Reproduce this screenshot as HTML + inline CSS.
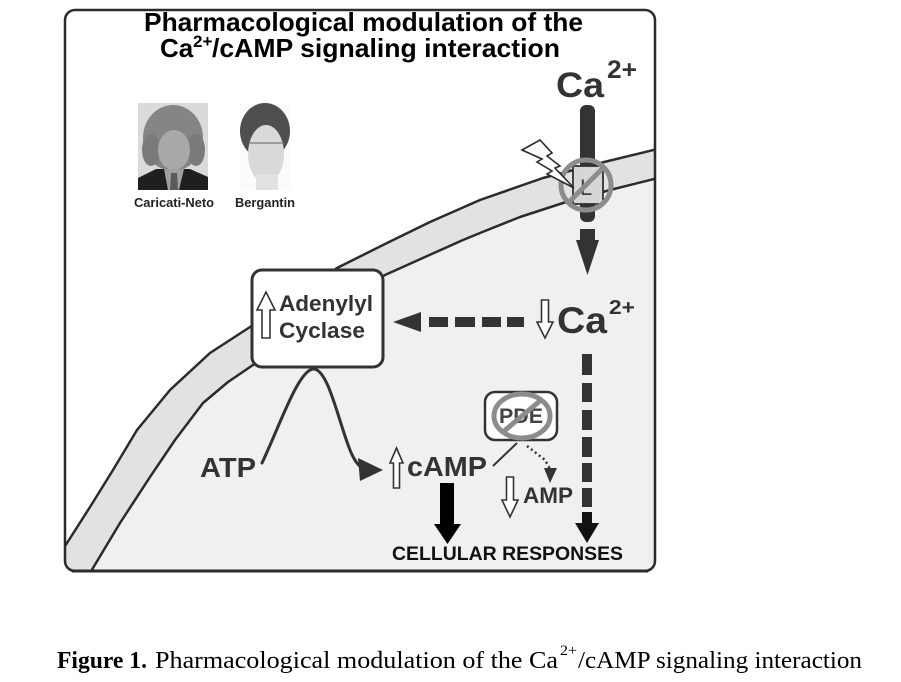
<!DOCTYPE html>
<html>
<head>
<meta charset="utf-8">
<style>
  html,body{margin:0;padding:0;background:#fff;}
  body{width:901px;height:682px;overflow:hidden;}
  svg{display:block;}
</style>
</head>
<body>
<svg width="901" height="682" viewBox="0 0 901 682" xmlns="http://www.w3.org/2000/svg">
  <defs>
    <clipPath id="fr">
      <rect x="65" y="10" width="590" height="561" rx="10" ry="10"/>
    </clipPath>
  </defs>
  <rect x="0" y="0" width="901" height="682" fill="#fff"/>

  <!-- cell interior and membrane -->
  <g clip-path="url(#fr)">
    <polygon fill="#f0f0f0" points="80,590 86,580 93,568 120,523 150,477 175,440 203,403 228,382 253,365 300,333 340,303 385,275 425,257 463,240 480,233 520,217 563,203 610,190 670,175 700,175 700,600 80,600"/>
    <polygon fill="#e2e2e2" points="50,568 58,556 67,543 90,507 113,470 137,430 170,390 210,353 250,327 293,297 337,268 385,244 430,222 480,200 543,178 600,163 670,146 670,175 610,190 563,203 520,217 480,233 463,240 425,257 385,275 340,303 300,333 253,365 228,382 203,403 175,440 150,477 120,523 93,568 86,580 80,590"/>
    <polyline fill="none" stroke="#2b2b2b" stroke-width="2.5" stroke-linejoin="round" points="50,568 58,556 67,543 90,507 113,470 137,430 170,390 210,353 250,327 293,297 337,268 385,244 430,222 480,200 543,178 600,163 670,146"/>
    <polyline fill="none" stroke="#2b2b2b" stroke-width="2.5" stroke-linejoin="round" points="80,590 86,580 93,568 120,523 150,477 175,440 203,403 228,382 253,365 300,333 340,303 385,275 425,257 463,240 480,233 520,217 563,203 610,190 670,175"/>
  </g>

  <!-- frame -->
  <rect x="65" y="10" width="590" height="561" rx="10" ry="10" fill="none" stroke="#2b2b2b" stroke-width="2.5"/>
  <line x1="72" y1="571" x2="648" y2="571" stroke="#2b2b2b" stroke-width="3"/>

  <!-- Title -->
  <text x="144" y="31" font-family="Liberation Sans, Arial, sans-serif" font-weight="bold" font-size="26" fill="#000" textLength="439" lengthAdjust="spacingAndGlyphs">Pharmacological modulation of the</text>
  <text x="160" y="57" font-family="Liberation Sans, Arial, sans-serif" font-weight="bold" font-size="26" fill="#000">Ca</text>
  <text x="193" y="47" font-family="Liberation Sans, Arial, sans-serif" font-weight="bold" font-size="17" fill="#000">2+</text>
  <text x="212" y="57" font-family="Liberation Sans, Arial, sans-serif" font-weight="bold" font-size="26" fill="#000" textLength="348" lengthAdjust="spacingAndGlyphs">/cAMP signaling interaction</text>

  <!-- Photos -->
  <g>
    <rect x="138" y="103" width="70" height="87" fill="#dadada"/>
    <ellipse cx="173" cy="138" rx="30" ry="33" fill="#858585"/>
    <ellipse cx="151" cy="150" rx="9" ry="16" fill="#7a7a7a"/>
    <ellipse cx="196" cy="150" rx="9" ry="16" fill="#7a7a7a"/>
    <ellipse cx="174" cy="150" rx="16" ry="20" fill="#a9a9a9"/>
    <polygon points="138,190 138,178 156,169 190,169 208,177 208,190" fill="#1f1f1f"/>
    <polygon points="164,169 184,169 179,190 168,190" fill="#a0a0a0"/>
    <polygon points="171,173 177,173 178,190 170,190" fill="#5a5a5a"/>
  </g>
  <g>
    <rect x="240" y="103" width="50" height="87" fill="#fbfbfb"/>
    <ellipse cx="265" cy="131" rx="25" ry="28" fill="#4f4f4f"/>
    <ellipse cx="266" cy="154" rx="18" ry="29" fill="#d9d9d9"/>
    <rect x="256" y="174" width="22" height="16" fill="#e2e2e2"/>
    <line x1="249" y1="143" x2="284" y2="143" stroke="#777" stroke-width="1.2"/>
  </g>
  <text x="134" y="207" font-family="Liberation Sans, Arial, sans-serif" font-weight="bold" font-size="13" fill="#222" textLength="80" lengthAdjust="spacingAndGlyphs">Caricati-Neto</text>
  <text x="235" y="207" font-family="Liberation Sans, Arial, sans-serif" font-weight="bold" font-size="13" fill="#222" textLength="60" lengthAdjust="spacingAndGlyphs">Bergantin</text>

  <!-- Top Ca2+ -->
  <text x="556" y="97" font-family="Liberation Sans, Arial, sans-serif" font-weight="bold" font-size="35" fill="#333" textLength="48" lengthAdjust="spacingAndGlyphs">Ca</text>
  <text x="607" y="78" font-family="Liberation Sans, Arial, sans-serif" font-weight="bold" font-size="25" fill="#333" textLength="30" lengthAdjust="spacingAndGlyphs">2+</text>

  <!-- Ca entry bar through channel -->
  <rect x="580" y="105" width="15" height="117" rx="6" fill="#333"/>
  <rect x="573" y="166" width="30" height="38" fill="#d6d6d6" stroke="#333" stroke-width="1.8"/>
  <text x="580" y="195" font-family="Liberation Sans, Arial, sans-serif" font-size="22" fill="#444">L</text>
  <rect x="580" y="229" width="15" height="12" fill="#333"/>
  <polygon points="576,240 599,240 587.5,275" fill="#333"/>
  <circle cx="586" cy="185" r="25" fill="none" stroke="#8c8c8c" stroke-width="5"/>
  <line x1="568" y1="203" x2="604" y2="167" stroke="#8c8c8c" stroke-width="5"/>

  <!-- lightning -->
  <polygon points="522,150 540,140 552,153 547,156 560,166 555,168 574,188 547,174 552,171 537,162 542,159" fill="#fff" stroke="#2b2b2b" stroke-width="1.6" stroke-linejoin="miter"/>

  <!-- down Ca2+ -->
  <polygon points="541.5,300 548.5,300 548.5,322 553,322 545,338 537,322 541.5,322" fill="#fff" stroke="#333" stroke-width="1.6"/>
  <text x="557" y="333" font-family="Liberation Sans, Arial, sans-serif" font-weight="bold" font-size="37" fill="#333" textLength="50" lengthAdjust="spacingAndGlyphs">Ca</text>
  <text x="609" y="314" font-family="Liberation Sans, Arial, sans-serif" font-weight="bold" font-size="20" fill="#333" textLength="26" lengthAdjust="spacingAndGlyphs">2+</text>

  <!-- horizontal dashed arrow -->
  <polygon points="393,322 421,312 421,332" fill="#333"/>
  <rect x="429" y="317" width="19" height="10" fill="#333"/>
  <rect x="455" y="317" width="20" height="10" fill="#333"/>
  <rect x="482" y="317" width="19" height="10" fill="#333"/>
  <rect x="507" y="317" width="17" height="10" fill="#333"/>

  <!-- vertical dashed arrow -->
  <rect x="582" y="354" width="10" height="21" fill="#333"/>
  <rect x="582" y="383" width="10" height="19" fill="#333"/>
  <rect x="582" y="410" width="10" height="20" fill="#333"/>
  <rect x="582" y="437" width="10" height="20" fill="#333"/>
  <rect x="582" y="463" width="10" height="19" fill="#333"/>
  <rect x="582" y="488" width="10" height="19" fill="#333"/>
  <rect x="582" y="512" width="10" height="13" fill="#111"/>
  <polygon points="575,523 599,523 587,543" fill="#111"/>

  <!-- Adenylyl cyclase box -->
  <rect x="252" y="270" width="131" height="97" rx="10" fill="#fff" stroke="#333" stroke-width="3"/>
  <polygon points="266,292 275,310 270,310 270,338 262,338 262,310 257,310" fill="#fff" stroke="#333" stroke-width="1.6"/>
  <text x="279" y="311" font-family="Liberation Sans, Arial, sans-serif" font-weight="bold" font-size="22" fill="#333" textLength="94" lengthAdjust="spacingAndGlyphs">Adenylyl</text>
  <text x="279" y="338" font-family="Liberation Sans, Arial, sans-serif" font-weight="bold" font-size="22" fill="#333" textLength="86" lengthAdjust="spacingAndGlyphs">Cyclase</text>

  <!-- ATP -> cAMP curve -->
  <path d="M262,463 C280,425 298,371 313,369 C328,368 338,420 350,450 C354,460 358,466 364,469" fill="none" stroke="#333" stroke-width="3" stroke-linecap="round"/>
  <polygon points="383,470 358,458 360,481" fill="#333"/>

  <text x="200" y="477" font-family="Liberation Sans, Arial, sans-serif" font-weight="bold" font-size="28" fill="#333" textLength="56" lengthAdjust="spacingAndGlyphs">ATP</text>

  <!-- up cAMP -->
  <polygon points="396.5,448 403,463 399.5,463 399.5,488 393.5,488 393.5,463 390,463" fill="#fff" stroke="#333" stroke-width="1.6"/>
  <text x="407" y="476" font-family="Liberation Sans, Arial, sans-serif" font-weight="bold" font-size="28" fill="#333" textLength="80" lengthAdjust="spacingAndGlyphs">cAMP</text>

  <!-- cAMP -> responses arrow -->
  <rect x="440" y="483" width="14" height="42" fill="#000"/>
  <polygon points="434,524 461,524 447.5,544" fill="#000"/>

  <!-- PDE -->
  <line x1="493" y1="466" x2="517" y2="443" stroke="#333" stroke-width="2"/>
  <rect x="485" y="392" width="72" height="48" rx="10" fill="#fff" stroke="#333" stroke-width="2.5"/>
  <text x="499" y="423" font-family="Liberation Sans, Arial, sans-serif" font-weight="bold" font-size="21" fill="#444" textLength="44" lengthAdjust="spacingAndGlyphs">PDE</text>
  <ellipse cx="522" cy="416" rx="28" ry="22" fill="none" stroke="#8c8c8c" stroke-width="5"/>
  <line x1="503" y1="432" x2="541" y2="400" stroke="#8c8c8c" stroke-width="5"/>

  <!-- dotted arrow to AMP -->
  <path d="M527,446 L545,460 L550,469" fill="none" stroke="#333" stroke-width="2.5" stroke-dasharray="2 3"/>
  <polygon points="544,468 557,468 550,483" fill="#333"/>

  <!-- down AMP -->
  <polygon points="506.5,477 513.5,477 513.5,500 518,500 510,517 502,500 506.5,500" fill="#fff" stroke="#333" stroke-width="1.6"/>
  <text x="523" y="503" font-family="Liberation Sans, Arial, sans-serif" font-weight="bold" font-size="22" fill="#333" textLength="50" lengthAdjust="spacingAndGlyphs">AMP</text>

  <!-- Cellular responses -->
  <text x="392" y="560" font-family="Liberation Sans, Arial, sans-serif" font-weight="bold" font-size="19.5" fill="#111" textLength="231" lengthAdjust="spacingAndGlyphs">CELLULAR RESPONSES</text>

  <!-- Caption -->
  <text x="57" y="668" font-family="Liberation Serif, Times New Roman, serif" font-weight="bold" font-size="24" fill="#000" textLength="90" lengthAdjust="spacingAndGlyphs">Figure 1.</text>
  <text x="155" y="668" font-family="Liberation Serif, Times New Roman, serif" font-size="24" fill="#000" textLength="403" lengthAdjust="spacingAndGlyphs">Pharmacological modulation of the Ca</text>
  <text x="560" y="655" font-family="Liberation Serif, Times New Roman, serif" font-size="15" fill="#000" textLength="17" lengthAdjust="spacingAndGlyphs">2+</text>
  <text x="578" y="668" font-family="Liberation Serif, Times New Roman, serif" font-size="24" fill="#000" textLength="284" lengthAdjust="spacingAndGlyphs">/cAMP signaling interaction</text>
</svg>
</body>
</html>
